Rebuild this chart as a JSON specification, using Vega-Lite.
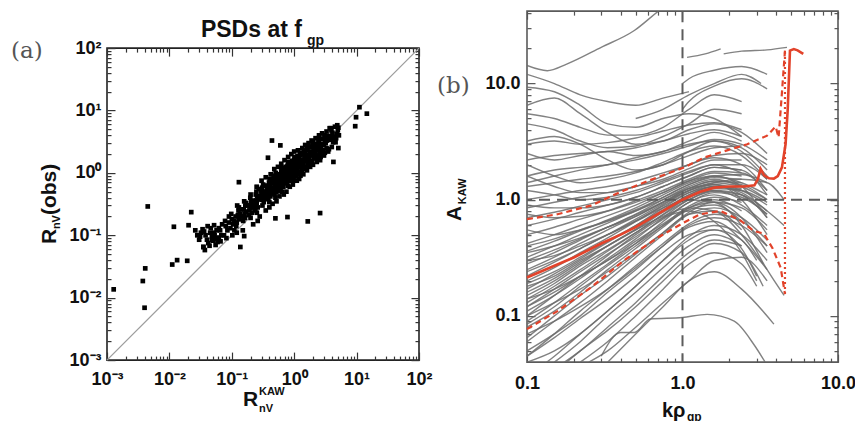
{
"$schema": "https://vega.github.io/schema/vega-lite/v6.json",
"background": "white",
"padding": {"left": 10, "top": 8, "right": 0, "bottom": 0},
"spacing": 3,
"center": true,
"config": {"view": {"stroke": null}, "axis": {"labelFont": "Liberation Sans", "labelFontWeight": "bold", "labelFontSize": 18, "labelColor": "#111", "domain": false, "grid": false, "labelFlush": false, "labelOverlap": false, "ticks": true, "tickColor": "#333", "tickWidth": 1.2, "zindex": 1}},
"resolve": {"scale": {"x": "independent", "y": "independent"}},
"datasets": {
"scatter": [
{"x":0.00128,"y":0.0136},{"x":0.00375,"y":0.0185},{"x":0.004,"y":0.0069},{"x":0.0041,"y":0.0295},{"x":0.0045,"y":0.29},{"x":0.0118,"y":0.137},{"x":0.0111,"y":0.034},{"x":0.0133,"y":0.04},{"x":0.0193,"y":0.039},{"x":0.0224,"y":0.235},{"x":0.0203,"y":0.145},
{"x":0.026,"y":0.12},{"x":0.028,"y":0.1},{"x":0.03,"y":0.085},{"x":0.031,"y":0.095},{"x":0.032,"y":0.11},{"x":0.034,"y":0.125},{"x":0.036,"y":0.115},{"x":0.038,"y":0.1},{"x":0.04,"y":0.085},{"x":0.042,"y":0.075},{"x":0.044,"y":0.068},{"x":0.035,"y":0.065},{"x":0.037,"y":0.058},{"x":0.045,"y":0.11},{"x":0.048,"y":0.095},{"x":0.05,"y":0.082},{"x":0.053,"y":0.1},{"x":0.056,"y":0.088},{"x":0.059,"y":0.078},{"x":0.062,"y":0.092},{"x":0.057,"y":0.12},{"x":0.046,"y":0.13},{"x":0.041,"y":0.14},{"x":0.052,"y":0.145},{"x":0.066,"y":0.08},
{"x":0.13,"y":0.71},{"x":0.137,"y":0.065},{"x":0.158,"y":0.097},{"x":0.44,"y":3.3},{"x":0.6,"y":2.76},{"x":0.38,"y":1.75},{"x":0.5,"y":0.187},{"x":0.78,"y":0.196},{"x":1.65,"y":0.167},{"x":2.6,"y":0.227},{"x":4.25,"y":1.5},{"x":5.1,"y":2.5},{"x":9.5,"y":5.6},{"x":9.8,"y":7.8},{"x":11.1,"y":11.3},{"x":14.6,"y":8.9},
{"x":0.048,"y":0.085},{"x":0.052,"y":0.11},{"x":0.05,"y":0.095},
{"x":0.06,"y":0.09},{"x":0.065,"y":0.12},{"x":0.068,"y":0.1},{"x":0.062,"y":0.13},
{"x":0.075,"y":0.1},{"x":0.08,"y":0.14},{"x":0.085,"y":0.12},{"x":0.078,"y":0.17},{"x":0.082,"y":0.09},
{"x":0.095,"y":0.13},{"x":0.1,"y":0.18},{"x":0.105,"y":0.15},{"x":0.098,"y":0.22},{"x":0.11,"y":0.12},{"x":0.102,"y":0.1},
{"x":0.12,"y":0.16},{"x":0.125,"y":0.21},{"x":0.13,"y":0.18},{"x":0.128,"y":0.25},{"x":0.118,"y":0.14},{"x":0.135,"y":0.22},{"x":0.122,"y":0.3},
{"x":0.15,"y":0.2},{"x":0.155,"y":0.26},{"x":0.16,"y":0.22},{"x":0.165,"y":0.3},{"x":0.152,"y":0.17},{"x":0.17,"y":0.24},{"x":0.158,"y":0.35},{"x":0.162,"y":0.19},
{"x":0.19,"y":0.25},{"x":0.195,"y":0.3},{"x":0.2,"y":0.27},{"x":0.205,"y":0.35},{"x":0.21,"y":0.23},{"x":0.198,"y":0.4},{"x":0.188,"y":0.21},{"x":0.215,"y":0.31},{"x":0.2,"y":0.19},
{"x":0.24,"y":0.3},{"x":0.245,"y":0.36},{"x":0.25,"y":0.33},{"x":0.255,"y":0.42},{"x":0.26,"y":0.28},{"x":0.248,"y":0.5},{"x":0.238,"y":0.25},{"x":0.265,"y":0.38},{"x":0.252,"y":0.23},{"x":0.242,"y":0.45},
{"x":0.3,"y":0.37},{"x":0.31,"y":0.44},{"x":0.315,"y":0.4},{"x":0.32,"y":0.5},{"x":0.325,"y":0.34},{"x":0.305,"y":0.58},{"x":0.33,"y":0.46},{"x":0.31,"y":0.3},{"x":0.318,"y":0.65},{"x":0.335,"y":0.39},{"x":0.298,"y":0.48},
{"x":0.38,"y":0.45},{"x":0.39,"y":0.53},{"x":0.4,"y":0.49},{"x":0.41,"y":0.6},{"x":0.415,"y":0.42},{"x":0.395,"y":0.7},{"x":0.42,"y":0.55},{"x":0.385,"y":0.38},{"x":0.405,"y":0.8},{"x":0.425,"y":0.47},{"x":0.378,"y":0.62},{"x":0.4,"y":0.34},
{"x":0.48,"y":0.55},{"x":0.49,"y":0.65},{"x":0.5,"y":0.6},{"x":0.51,"y":0.72},{"x":0.52,"y":0.5},{"x":0.495,"y":0.85},{"x":0.53,"y":0.66},{"x":0.485,"y":0.45},{"x":0.505,"y":1.0},{"x":0.515,"y":0.58},{"x":0.475,"y":0.75},{"x":0.5,"y":0.4},{"x":0.525,"y":0.8},
{"x":0.6,"y":0.68},{"x":0.61,"y":0.8},{"x":0.63,"y":0.74},{"x":0.64,"y":0.9},{"x":0.65,"y":0.62},{"x":0.62,"y":1.05},{"x":0.66,"y":0.82},{"x":0.605,"y":0.55},{"x":0.635,"y":1.2},{"x":0.655,"y":0.7},{"x":0.595,"y":0.95},{"x":0.63,"y":0.5},{"x":0.67,"y":0.95},{"x":0.615,"y":0.66},
{"x":0.76,"y":0.85},{"x":0.77,"y":0.98},{"x":0.79,"y":0.9},{"x":0.8,"y":1.1},{"x":0.82,"y":0.78},{"x":0.78,"y":1.3},{"x":0.83,"y":1.0},{"x":0.75,"y":0.7},{"x":0.8,"y":1.5},{"x":0.815,"y":0.88},{"x":0.74,"y":1.15},{"x":0.79,"y":0.62},{"x":0.84,"y":1.2},{"x":0.77,"y":0.8},
{"x":0.96,"y":1.05},{"x":0.98,"y":1.2},{"x":1.0,"y":1.1},{"x":1.02,"y":1.35},{"x":1.04,"y":0.95},{"x":0.99,"y":1.6},{"x":1.05,"y":1.22},{"x":0.95,"y":0.85},{"x":1.01,"y":1.8},{"x":1.03,"y":1.0},{"x":0.94,"y":1.4},{"x":1.0,"y":0.75},{"x":1.06,"y":1.5},{"x":0.97,"y":0.92},
{"x":1.2,"y":1.28},{"x":1.23,"y":1.45},{"x":1.26,"y":1.34},{"x":1.29,"y":1.6},{"x":1.31,"y":1.15},{"x":1.25,"y":1.9},{"x":1.33,"y":1.5},{"x":1.2,"y":1.05},{"x":1.27,"y":2.1},{"x":1.3,"y":1.25},{"x":1.18,"y":1.7},{"x":1.26,"y":0.9},
{"x":1.52,"y":1.55},{"x":1.55,"y":1.75},{"x":1.58,"y":1.62},{"x":1.62,"y":1.95},{"x":1.65,"y":1.4},{"x":1.57,"y":2.3},{"x":1.68,"y":1.8},{"x":1.5,"y":1.25},{"x":1.6,"y":2.6},{"x":1.64,"y":1.5},{"x":1.48,"y":2.0},
{"x":1.9,"y":1.9},{"x":1.95,"y":2.15},{"x":2.0,"y":2.0},{"x":2.05,"y":2.4},{"x":2.1,"y":1.7},{"x":1.98,"y":2.8},{"x":2.12,"y":2.2},{"x":1.92,"y":1.5},{"x":2.02,"y":3.2},{"x":2.08,"y":1.85},
{"x":2.4,"y":2.3},{"x":2.45,"y":2.65},{"x":2.5,"y":2.45},{"x":2.55,"y":2.9},{"x":2.6,"y":2.1},{"x":2.48,"y":3.3},{"x":2.65,"y":2.6},{"x":2.38,"y":1.9},{"x":2.52,"y":3.7},
{"x":3.0,"y":2.8},{"x":3.1,"y":3.2},{"x":3.2,"y":3.0},{"x":3.25,"y":3.6},{"x":3.3,"y":2.5},{"x":3.05,"y":4.0},{"x":3.35,"y":3.3},{"x":2.95,"y":2.3},
{"x":3.8,"y":3.4},{"x":3.9,"y":3.9},{"x":4.0,"y":3.6},{"x":4.1,"y":4.4},{"x":4.2,"y":3.1},{"x":3.95,"y":4.8},{"x":4.3,"y":3.8},{"x":3.85,"y":5.2},
{"x":4.8,"y":4.2},{"x":5.0,"y":4.8},{"x":5.1,"y":5.3},{"x":4.9,"y":5.8},{"x":5.2,"y":4.0},{"x":4.7,"y":3.6},
{"x":0.35,"y":0.5},{"x":0.36,"y":0.62},{"x":0.37,"y":0.55},{"x":0.44,"y":0.58},{"x":0.45,"y":0.68},{"x":0.46,"y":0.52},{"x":0.47,"y":0.9},{"x":0.55,"y":0.7},{"x":0.56,"y":0.78},{"x":0.57,"y":0.6},{"x":0.58,"y":0.88},{"x":0.69,"y":0.8},{"x":0.7,"y":0.95},{"x":0.72,"y":0.72},{"x":0.73,"y":1.05},{"x":0.86,"y":0.95},{"x":0.88,"y":1.1},{"x":0.9,"y":0.85},{"x":0.92,"y":1.25},{"x":1.1,"y":1.15},{"x":1.12,"y":1.3},{"x":1.14,"y":1.0},{"x":1.16,"y":1.45},{"x":1.4,"y":1.4},{"x":1.42,"y":1.6},{"x":1.44,"y":1.25},{"x":1.46,"y":1.8},{"x":1.75,"y":1.7},{"x":1.8,"y":1.95},{"x":1.85,"y":1.55},{"x":1.78,"y":2.2},{"x":2.2,"y":2.1},{"x":2.25,"y":2.5},{"x":2.3,"y":1.85},{"x":2.28,"y":2.9},{"x":2.7,"y":2.5},{"x":2.8,"y":2.9},{"x":2.75,"y":2.2},{"x":0.6,"y":0.9},{"x":0.65,"y":1.0},{"x":0.75,"y":1.0},{"x":0.85,"y":1.3},{"x":0.9,"y":1.4},{"x":1.1,"y":1.7},{"x":1.3,"y":2.0},{"x":0.55,"y":0.95},{"x":0.45,"y":0.8},{"x":0.4,"y":0.65},{"x":0.3,"y":0.52},{"x":0.28,"y":0.42},{"x":0.27,"y":0.55},{"x":0.22,"y":0.36},{"x":0.23,"y":0.28},{"x":0.18,"y":0.3},{"x":0.14,"y":0.2},{"x":0.145,"y":0.26},{"x":0.11,"y":0.17},{"x":0.115,"y":0.2},{"x":0.09,"y":0.16},{"x":0.035,"y":0.065},
{"x":0.2,"y":0.45},{"x":0.22,"y":0.15},{"x":0.25,"y":0.6},{"x":0.28,"y":0.2},{"x":0.3,"y":0.75},{"x":0.35,"y":0.25},{"x":0.35,"y":0.85},{"x":0.4,"y":0.28},{"x":0.42,"y":0.95},{"x":0.45,"y":0.32},{"x":0.48,"y":1.15},{"x":0.52,"y":0.35},{"x":0.55,"y":1.25},{"x":0.58,"y":0.42},{"x":0.62,"y":1.4},{"x":0.68,"y":0.45},{"x":0.7,"y":1.6},{"x":0.75,"y":0.5},{"x":0.8,"y":1.8},{"x":0.85,"y":0.6},{"x":0.9,"y":2.0},{"x":0.95,"y":0.65},{"x":1.0,"y":2.2},{"x":1.1,"y":0.75},{"x":1.15,"y":2.3},{"x":1.2,"y":0.8},{"x":1.35,"y":2.5},{"x":1.4,"y":0.95},{"x":1.5,"y":2.8},{"x":1.6,"y":1.1},{"x":1.7,"y":3.0},{"x":1.8,"y":1.25},{"x":1.9,"y":3.3},{"x":2.0,"y":1.35},{"x":2.2,"y":3.6},{"x":2.3,"y":1.5},{"x":2.5,"y":4.0},{"x":2.6,"y":1.6},{"x":2.8,"y":4.3},{"x":3.0,"y":1.9},{"x":3.3,"y":4.6},{"x":3.5,"y":2.2},{"x":3.7,"y":5.2},{"x":4.0,"y":2.6},{"x":4.5,"y":5.5},{"x":4.6,"y":3.1},{"x":0.33,"y":0.62},{"x":0.37,"y":0.42},{"x":0.43,"y":0.72},{"x":0.47,"y":0.48},{"x":0.53,"y":0.88},{"x":0.57,"y":0.52},{"x":0.63,"y":1.1},{"x":0.67,"y":0.6},{"x":0.73,"y":1.25},{"x":0.77,"y":0.68},{"x":0.83,"y":1.4},{"x":0.87,"y":0.75},{"x":0.93,"y":1.55},{"x":0.97,"y":0.8},{"x":1.03,"y":1.65},{"x":1.07,"y":0.88},{"x":1.13,"y":1.85},{"x":1.17,"y":0.95},{"x":1.23,"y":2.0},{"x":1.33,"y":1.05},{"x":1.43,"y":2.2},{"x":1.53,"y":1.15},{"x":1.63,"y":2.4},{"x":1.73,"y":1.3},{"x":1.83,"y":2.6},{"x":1.93,"y":1.4},{"x":2.15,"y":2.8},{"x":2.35,"y":1.65},{"x":2.45,"y":3.1},{"x":2.65,"y":1.8},{"x":2.9,"y":3.5},{"x":3.1,"y":2.1},{"x":3.4,"y":3.9},{"x":3.6,"y":2.4},{"x":0.15,"y":0.12},{"x":0.17,"y":0.33},{"x":0.12,"y":0.11},{"x":0.13,"y":0.28},{"x":0.26,"y":0.17},{"x":0.09,"y":0.2},{"x":0.07,"y":0.15},{"x":0.055,"y":0.07}
],
"curves": [
{"i":1,"k":0.1,"a":0.05},{"i":1,"k":0.15,"a":0.07},{"i":1,"k":0.22,"a":0.1},{"i":1,"k":0.33,"a":0.16},{"i":1,"k":0.5,"a":0.25},{"i":1,"k":0.75,"a":0.4},{"i":1,"k":1.1,"a":0.6},{"i":1,"k":1.6,"a":0.7},{"i":1,"k":2.4,"a":0.6},{"i":1,"k":3.5,"a":0.4},
{"i":2,"k":0.1,"a":0.06},{"i":2,"k":0.15,"a":0.09},{"i":2,"k":0.22,"a":0.13},{"i":2,"k":0.33,"a":0.2},{"i":2,"k":0.5,"a":0.32},{"i":2,"k":0.75,"a":0.5},{"i":2,"k":1.1,"a":0.75},{"i":2,"k":1.6,"a":0.85},{"i":2,"k":2.4,"a":0.7},{"i":2,"k":3.5,"a":0.45},
{"i":3,"k":0.1,"a":0.08},{"i":3,"k":0.15,"a":0.11},{"i":3,"k":0.22,"a":0.16},{"i":3,"k":0.33,"a":0.25},{"i":3,"k":0.5,"a":0.38},{"i":3,"k":0.75,"a":0.58},{"i":3,"k":1.1,"a":0.85},{"i":3,"k":1.6,"a":1.0},{"i":3,"k":2.4,"a":0.8},
{"i":4,"k":0.1,"a":0.09},{"i":4,"k":0.15,"a":0.13},{"i":4,"k":0.22,"a":0.19},{"i":4,"k":0.33,"a":0.28},{"i":4,"k":0.5,"a":0.42},{"i":4,"k":0.75,"a":0.65},{"i":4,"k":1.1,"a":0.95},{"i":4,"k":1.6,"a":1.1},{"i":4,"k":2.4,"a":0.9},{"i":4,"k":3.5,"a":0.6},
{"i":5,"k":0.1,"a":0.11},{"i":5,"k":0.15,"a":0.15},{"i":5,"k":0.22,"a":0.21},{"i":5,"k":0.33,"a":0.31},{"i":5,"k":0.5,"a":0.46},{"i":5,"k":0.75,"a":0.7},{"i":5,"k":1.1,"a":1.0},{"i":5,"k":1.6,"a":1.2},{"i":5,"k":2.4,"a":1.0},
{"i":6,"k":0.1,"a":0.13},{"i":6,"k":0.15,"a":0.18},{"i":6,"k":0.22,"a":0.25},{"i":6,"k":0.33,"a":0.36},{"i":6,"k":0.5,"a":0.52},{"i":6,"k":0.75,"a":0.75},{"i":6,"k":1.1,"a":1.05},{"i":6,"k":1.6,"a":1.2},{"i":6,"k":2.4,"a":1.1},{"i":6,"k":3.5,"a":0.7},
{"i":7,"k":0.1,"a":0.15},{"i":7,"k":0.15,"a":0.2},{"i":7,"k":0.22,"a":0.28},{"i":7,"k":0.33,"a":0.4},{"i":7,"k":0.5,"a":0.56},{"i":7,"k":0.75,"a":0.8},{"i":7,"k":1.1,"a":1.1},{"i":7,"k":1.6,"a":1.3},{"i":7,"k":2.4,"a":1.2},
{"i":8,"k":0.1,"a":0.17},{"i":8,"k":0.15,"a":0.23},{"i":8,"k":0.22,"a":0.31},{"i":8,"k":0.33,"a":0.43},{"i":8,"k":0.5,"a":0.6},{"i":8,"k":0.75,"a":0.85},{"i":8,"k":1.1,"a":1.15},{"i":8,"k":1.6,"a":1.35},{"i":8,"k":2.4,"a":1.1},{"i":8,"k":3.5,"a":0.75},
{"i":9,"k":0.1,"a":0.2},{"i":9,"k":0.15,"a":0.26},{"i":9,"k":0.22,"a":0.35},{"i":9,"k":0.33,"a":0.47},{"i":9,"k":0.5,"a":0.65},{"i":9,"k":0.75,"a":0.9},{"i":9,"k":1.1,"a":1.2},{"i":9,"k":1.6,"a":1.4},{"i":9,"k":2.4,"a":1.3},
{"i":10,"k":0.1,"a":0.22},{"i":10,"k":0.15,"a":0.29},{"i":10,"k":0.22,"a":0.38},{"i":10,"k":0.33,"a":0.5},{"i":10,"k":0.5,"a":0.68},{"i":10,"k":0.75,"a":0.92},{"i":10,"k":1.1,"a":1.2},{"i":10,"k":1.6,"a":1.35},{"i":10,"k":2.4,"a":1.2},{"i":10,"k":3.5,"a":0.9},
{"i":11,"k":0.1,"a":0.25},{"i":11,"k":0.15,"a":0.32},{"i":11,"k":0.22,"a":0.42},{"i":11,"k":0.33,"a":0.55},{"i":11,"k":0.5,"a":0.72},{"i":11,"k":0.75,"a":0.95},{"i":11,"k":1.1,"a":1.25},{"i":11,"k":1.6,"a":1.45},{"i":11,"k":2.4,"a":1.4},
{"i":12,"k":0.1,"a":0.28},{"i":12,"k":0.15,"a":0.35},{"i":12,"k":0.22,"a":0.45},{"i":12,"k":0.33,"a":0.58},{"i":12,"k":0.5,"a":0.75},{"i":12,"k":0.75,"a":1.0},{"i":12,"k":1.1,"a":1.3},{"i":12,"k":1.6,"a":1.5},{"i":12,"k":2.4,"a":1.3},{"i":12,"k":3.5,"a":1.0},
{"i":13,"k":0.1,"a":0.32},{"i":13,"k":0.15,"a":0.4},{"i":13,"k":0.22,"a":0.5},{"i":13,"k":0.33,"a":0.63},{"i":13,"k":0.5,"a":0.8},{"i":13,"k":0.75,"a":1.05},{"i":13,"k":1.1,"a":1.35},{"i":13,"k":1.6,"a":1.55},{"i":13,"k":2.4,"a":1.5},
{"i":14,"k":0.1,"a":0.36},{"i":14,"k":0.15,"a":0.44},{"i":14,"k":0.22,"a":0.54},{"i":14,"k":0.33,"a":0.67},{"i":14,"k":0.5,"a":0.85},{"i":14,"k":0.75,"a":1.1},{"i":14,"k":1.1,"a":1.4},{"i":14,"k":1.6,"a":1.6},{"i":14,"k":2.4,"a":1.4},{"i":14,"k":3.5,"a":1.1},
{"i":15,"k":0.1,"a":0.42},{"i":15,"k":0.15,"a":0.5},{"i":15,"k":0.22,"a":0.6},{"i":15,"k":0.33,"a":0.73},{"i":15,"k":0.5,"a":0.9},{"i":15,"k":0.75,"a":1.15},{"i":15,"k":1.1,"a":1.45},{"i":15,"k":1.6,"a":1.7},{"i":15,"k":2.4,"a":1.6},
{"i":16,"k":0.1,"a":0.5},{"i":16,"k":0.15,"a":0.58},{"i":16,"k":0.22,"a":0.68},{"i":16,"k":0.33,"a":0.8},{"i":16,"k":0.5,"a":0.98},{"i":16,"k":0.75,"a":1.2},{"i":16,"k":1.1,"a":1.5},{"i":16,"k":1.6,"a":1.75},{"i":16,"k":2.4,"a":1.7},{"i":16,"k":3.5,"a":1.2},
{"i":17,"k":0.1,"a":0.6},{"i":17,"k":0.15,"a":0.68},{"i":17,"k":0.22,"a":0.78},{"i":17,"k":0.33,"a":0.9},{"i":17,"k":0.5,"a":1.05},{"i":17,"k":0.75,"a":1.3},{"i":17,"k":1.1,"a":1.6},{"i":17,"k":1.6,"a":1.9},{"i":17,"k":2.4,"a":1.8},
{"i":18,"k":0.1,"a":0.7},{"i":18,"k":0.15,"a":0.78},{"i":18,"k":0.22,"a":0.88},{"i":18,"k":0.33,"a":1.0},{"i":18,"k":0.5,"a":1.15},{"i":18,"k":0.75,"a":1.4},{"i":18,"k":1.1,"a":1.7},{"i":18,"k":1.6,"a":2.0},{"i":18,"k":2.4,"a":2.0},{"i":18,"k":3.5,"a":1.5},
{"i":19,"k":0.1,"a":0.85},{"i":19,"k":0.15,"a":0.95},{"i":19,"k":0.22,"a":1.05},{"i":19,"k":0.33,"a":1.15},{"i":19,"k":0.5,"a":1.3},{"i":19,"k":0.75,"a":1.5},{"i":19,"k":1.1,"a":1.85},{"i":19,"k":1.6,"a":2.2},{"i":19,"k":2.4,"a":2.2},
{"i":20,"k":0.1,"a":1.0},{"i":20,"k":0.15,"a":1.1},{"i":20,"k":0.22,"a":1.2},{"i":20,"k":0.33,"a":1.3},{"i":20,"k":0.5,"a":1.45},{"i":20,"k":0.75,"a":1.7},{"i":20,"k":1.1,"a":2.0},{"i":20,"k":1.6,"a":2.4},{"i":20,"k":2.4,"a":2.5},{"i":20,"k":3.5,"a":2.0},
{"i":21,"k":0.1,"a":1.3},{"i":21,"k":0.15,"a":1.4},{"i":21,"k":0.22,"a":1.5},{"i":21,"k":0.33,"a":1.6},{"i":21,"k":0.5,"a":1.75},{"i":21,"k":0.75,"a":2.0},{"i":21,"k":1.1,"a":2.4},{"i":21,"k":1.6,"a":2.8},{"i":21,"k":2.4,"a":2.9},
{"i":22,"k":0.1,"a":1.6},{"i":22,"k":0.15,"a":1.8},{"i":22,"k":0.22,"a":1.9},{"i":22,"k":0.33,"a":2.0},{"i":22,"k":0.5,"a":2.2},{"i":22,"k":0.75,"a":2.5},{"i":22,"k":1.1,"a":2.9},{"i":22,"k":1.6,"a":3.3},{"i":22,"k":2.4,"a":3.0},{"i":22,"k":3.5,"a":2.2},
{"i":23,"k":0.1,"a":2.2},{"i":23,"k":0.15,"a":2.4},{"i":23,"k":0.22,"a":2.5},{"i":23,"k":0.33,"a":2.6},{"i":23,"k":0.5,"a":2.8},{"i":23,"k":0.75,"a":3.2},{"i":23,"k":1.1,"a":3.7},{"i":23,"k":1.6,"a":4.0},{"i":23,"k":2.4,"a":3.5},
{"i":24,"k":0.1,"a":3.0},{"i":24,"k":0.15,"a":3.2},{"i":24,"k":0.22,"a":3.0},{"i":24,"k":0.33,"a":3.1},{"i":24,"k":0.5,"a":3.4},{"i":24,"k":0.75,"a":3.9},{"i":24,"k":1.1,"a":4.4},{"i":24,"k":1.6,"a":4.6},{"i":24,"k":2.4,"a":4.0},
{"i":25,"k":0.1,"a":0.04},{"i":25,"k":0.15,"a":0.05},{"i":25,"k":0.22,"a":0.07},{"i":25,"k":0.33,"a":0.11},{"i":25,"k":0.5,"a":0.18},{"i":25,"k":0.75,"a":0.3},{"i":25,"k":1.1,"a":0.48},{"i":25,"k":1.6,"a":0.6},{"i":25,"k":2.4,"a":0.5},{"i":25,"k":3.5,"a":0.3},
{"i":26,"k":0.15,"a":0.04},{"i":26,"k":0.22,"a":0.06},{"i":26,"k":0.33,"a":0.1},{"i":26,"k":0.5,"a":0.16},{"i":26,"k":0.75,"a":0.26},{"i":26,"k":1.1,"a":0.4},{"i":26,"k":1.6,"a":0.5},{"i":26,"k":2.4,"a":0.4},
{"i":27,"k":0.1,"a":0.07},{"i":27,"k":0.15,"a":0.09},{"i":27,"k":0.22,"a":0.12},{"i":27,"k":0.33,"a":0.17},{"i":27,"k":0.5,"a":0.26},{"i":27,"k":0.75,"a":0.4},{"i":27,"k":1.1,"a":0.58},{"i":27,"k":1.6,"a":0.65},{"i":27,"k":2.4,"a":0.45},{"i":27,"k":3.5,"a":0.25},
{"i":28,"k":0.1,"a":0.1},{"i":28,"k":0.15,"a":0.13},{"i":28,"k":0.22,"a":0.17},{"i":28,"k":0.33,"a":0.24},{"i":28,"k":0.5,"a":0.35},{"i":28,"k":0.75,"a":0.52},{"i":28,"k":1.1,"a":0.75},{"i":28,"k":1.6,"a":0.8},{"i":28,"k":2.4,"a":0.55},
{"i":29,"k":0.1,"a":0.12},{"i":29,"k":0.15,"a":0.16},{"i":29,"k":0.22,"a":0.22},{"i":29,"k":0.33,"a":0.3},{"i":29,"k":0.5,"a":0.44},{"i":29,"k":0.75,"a":0.62},{"i":29,"k":1.1,"a":0.85},{"i":29,"k":1.6,"a":0.95},{"i":29,"k":2.4,"a":0.7},{"i":29,"k":3.5,"a":0.35},
{"i":30,"k":0.1,"a":0.14},{"i":30,"k":0.15,"a":0.17},{"i":30,"k":0.22,"a":0.22},{"i":30,"k":0.33,"a":0.3},{"i":30,"k":0.5,"a":0.42},{"i":30,"k":0.75,"a":0.6},{"i":30,"k":1.1,"a":0.82},{"i":30,"k":1.6,"a":0.9},{"i":30,"k":2.4,"a":0.65},
{"i":31,"k":0.3,"a":0.045},{"i":31,"k":0.4,"a":0.072},{"i":31,"k":0.49,"a":0.072},{"i":31,"k":0.62,"a":0.094},{"i":31,"k":1.0,"a":0.097},{"i":31,"k":1.44,"a":0.103},{"i":31,"k":2.15,"a":0.09},{"i":31,"k":2.87,"a":0.057},{"i":31,"k":3.4,"a":0.04},
{"i":32,"k":0.33,"a":0.04},{"i":32,"k":0.5,"a":0.07},{"i":32,"k":0.75,"a":0.12},{"i":32,"k":1.1,"a":0.2},{"i":32,"k":1.6,"a":0.24},{"i":32,"k":2.4,"a":0.17},{"i":32,"k":3.87,"a":0.085},
{"i":33,"k":0.22,"a":0.04},{"i":33,"k":0.33,"a":0.06},{"i":33,"k":0.5,"a":0.1},{"i":33,"k":0.75,"a":0.17},{"i":33,"k":1.1,"a":0.28},{"i":33,"k":1.6,"a":0.35},{"i":33,"k":2.4,"a":0.28},{"i":33,"k":3.0,"a":0.18},
{"i":34,"k":0.1,"a":14.3},{"i":34,"k":0.135,"a":12.9},{"i":34,"k":0.18,"a":14.7},{"i":34,"k":0.3,"a":20.5},{"i":34,"k":0.49,"a":28.6},{"i":34,"k":0.7,"a":42},{"i":34,"k":0.8,"a":48},
{"i":35,"k":0.1,"a":9.3},{"i":35,"k":0.15,"a":8.5},{"i":35,"k":0.22,"a":6.5},{"i":35,"k":0.33,"a":4.5},{"i":35,"k":0.5,"a":4.2},{"i":35,"k":0.75,"a":5.0},{"i":35,"k":1.1,"a":5.5},{"i":35,"k":1.6,"a":5.0},{"i":35,"k":2.4,"a":3.5},
{"i":36,"k":0.1,"a":6.5},{"i":36,"k":0.15,"a":7.5},{"i":36,"k":0.22,"a":5.5},{"i":36,"k":0.33,"a":3.8},{"i":36,"k":0.5,"a":3.0},{"i":36,"k":0.75,"a":3.2},{"i":36,"k":1.1,"a":4.0},{"i":36,"k":1.6,"a":4.5},{"i":36,"k":2.4,"a":3.8},{"i":36,"k":3.5,"a":2.5},
{"i":37,"k":0.1,"a":4.5},{"i":37,"k":0.15,"a":4.0},{"i":37,"k":0.22,"a":3.2},{"i":37,"k":0.33,"a":2.8},{"i":37,"k":0.5,"a":2.9},{"i":37,"k":0.75,"a":3.5},{"i":37,"k":1.1,"a":4.5},{"i":37,"k":1.6,"a":6.0},{"i":37,"k":2.4,"a":5.5},
{"i":38,"k":0.1,"a":3.2},{"i":38,"k":0.15,"a":3.5},{"i":38,"k":0.22,"a":3.0},{"i":38,"k":0.33,"a":2.2},{"i":38,"k":0.5,"a":1.8},{"i":38,"k":0.75,"a":2.0},{"i":38,"k":1.1,"a":2.6},{"i":38,"k":1.6,"a":3.2},{"i":38,"k":2.4,"a":2.8},{"i":38,"k":3.5,"a":1.8},
{"i":39,"k":0.1,"a":2.5},{"i":39,"k":0.15,"a":2.2},{"i":39,"k":0.22,"a":2.4},{"i":39,"k":0.33,"a":2.6},{"i":39,"k":0.5,"a":2.4},{"i":39,"k":0.75,"a":2.6},{"i":39,"k":1.1,"a":3.2},{"i":39,"k":1.6,"a":3.8},{"i":39,"k":2.4,"a":3.2},
{"i":40,"k":0.1,"a":2.0},{"i":40,"k":0.15,"a":1.6},{"i":40,"k":0.22,"a":1.4},{"i":40,"k":0.33,"a":1.5},{"i":40,"k":0.5,"a":1.7},{"i":40,"k":0.75,"a":2.1},{"i":40,"k":1.1,"a":2.6},{"i":40,"k":1.6,"a":2.9},{"i":40,"k":2.4,"a":2.4},{"i":40,"k":3.5,"a":1.5},
{"i":41,"k":0.1,"a":1.6},{"i":41,"k":0.15,"a":1.3},{"i":41,"k":0.22,"a":1.15},{"i":41,"k":0.33,"a":1.15},{"i":41,"k":0.5,"a":1.3},{"i":41,"k":0.75,"a":1.6},{"i":41,"k":1.1,"a":2.0},{"i":41,"k":1.6,"a":2.3},{"i":41,"k":2.4,"a":2.0},{"i":41,"k":3.5,"a":1.2},
{"i":42,"k":0.1,"a":1.2},{"i":42,"k":0.15,"a":1.1},{"i":42,"k":0.22,"a":1.0},{"i":42,"k":0.33,"a":1.05},{"i":42,"k":0.5,"a":1.2},{"i":42,"k":0.75,"a":1.45},{"i":42,"k":1.1,"a":1.75},{"i":42,"k":1.6,"a":2.0},{"i":42,"k":2.4,"a":1.7},
{"i":43,"k":0.1,"a":5.5},{"i":43,"k":0.15,"a":5.0},{"i":43,"k":0.22,"a":4.2},{"i":43,"k":0.33,"a":3.6},{"i":43,"k":0.5,"a":3.6},{"i":43,"k":0.75,"a":4.2},{"i":43,"k":1.1,"a":6.0},{"i":43,"k":1.6,"a":8.0},{"i":43,"k":2.4,"a":7.0},
{"i":44,"k":0.1,"a":12},{"i":44,"k":0.15,"a":10},{"i":44,"k":0.22,"a":8},{"i":44,"k":0.33,"a":7},{"i":44,"k":0.5,"a":6.5},{"i":44,"k":0.75,"a":7.5},{"i":44,"k":1.1,"a":8.5},
{"i":45,"k":1.0,"a":10},{"i":45,"k":1.1,"a":11},{"i":45,"k":1.6,"a":13},{"i":45,"k":2.4,"a":14},{"i":45,"k":3.5,"a":12},
{"i":46,"k":1.84,"a":18},{"i":46,"k":2.4,"a":19},{"i":46,"k":3.5,"a":19.5},{"i":46,"k":4.7,"a":20.5},
{"i":47,"k":1.07,"a":16.8},{"i":47,"k":1.4,"a":18},{"i":47,"k":1.76,"a":19.9},
{"i":48,"k":1.0,"a":6},{"i":48,"k":1.1,"a":7},{"i":48,"k":1.6,"a":9.5},{"i":48,"k":2.4,"a":11},{"i":48,"k":3.5,"a":9},
{"i":49,"k":0.5,"a":5},{"i":49,"k":0.75,"a":6},{"i":49,"k":1.1,"a":8},{"i":49,"k":1.6,"a":10},{"i":49,"k":2.4,"a":12},{"i":49,"k":3.2,"a":10},
{"i":50,"k":0.1,"a":0.9},{"i":50,"k":0.15,"a":0.85},{"i":50,"k":0.22,"a":0.85},{"i":50,"k":0.33,"a":0.9},{"i":50,"k":0.5,"a":1.05},{"i":50,"k":0.75,"a":1.3},{"i":50,"k":1.1,"a":1.6},{"i":50,"k":1.6,"a":1.9},{"i":50,"k":2.4,"a":1.8},{"i":50,"k":3.5,"a":1.1},
{"i":51,"k":0.1,"a":0.75},{"i":51,"k":0.15,"a":0.7},{"i":51,"k":0.22,"a":0.72},{"i":51,"k":0.33,"a":0.8},{"i":51,"k":0.5,"a":0.95},{"i":51,"k":0.75,"a":1.15},{"i":51,"k":1.1,"a":1.45},{"i":51,"k":1.6,"a":1.6},{"i":51,"k":2.4,"a":1.3},{"i":51,"k":3.5,"a":0.7},
{"i":52,"k":0.1,"a":0.55},{"i":52,"k":0.15,"a":0.5},{"i":52,"k":0.22,"a":0.55},{"i":52,"k":0.33,"a":0.65},{"i":52,"k":0.5,"a":0.8},{"i":52,"k":0.75,"a":1.0},{"i":52,"k":1.1,"a":1.25},{"i":52,"k":1.6,"a":1.35},{"i":52,"k":2.4,"a":1.0},{"i":52,"k":3.5,"a":0.5},
{"i":53,"k":0.1,"a":0.3},{"i":53,"k":0.15,"a":0.33},{"i":53,"k":0.22,"a":0.4},{"i":53,"k":0.33,"a":0.5},{"i":53,"k":0.5,"a":0.65},{"i":53,"k":0.75,"a":0.85},{"i":53,"k":1.1,"a":1.0},{"i":53,"k":1.6,"a":0.95},{"i":53,"k":2.4,"a":0.6},{"i":53,"k":3.5,"a":0.25},{"i":53,"k":4.5,"a":0.15},
{"i":54,"k":0.1,"a":0.18},{"i":54,"k":0.15,"a":0.22},{"i":54,"k":0.22,"a":0.3},{"i":54,"k":0.33,"a":0.4},{"i":54,"k":0.5,"a":0.55},{"i":54,"k":0.75,"a":0.72},{"i":54,"k":1.1,"a":0.85},{"i":54,"k":1.6,"a":0.8},{"i":54,"k":2.4,"a":0.5},{"i":54,"k":3.3,"a":0.28},
{"i":55,"k":0.1,"a":0.045},{"i":55,"k":0.15,"a":0.065},{"i":55,"k":0.22,"a":0.095},{"i":55,"k":0.33,"a":0.14},{"i":55,"k":0.5,"a":0.22},{"i":55,"k":0.75,"a":0.35},{"i":55,"k":1.1,"a":0.5},{"i":55,"k":1.6,"a":0.55},{"i":55,"k":2.4,"a":0.38},{"i":55,"k":3.0,"a":0.22},
{"i":56,"k":0.18,"a":0.04},{"i":56,"k":0.22,"a":0.05},{"i":56,"k":0.33,"a":0.075},{"i":56,"k":0.5,"a":0.12},{"i":56,"k":0.75,"a":0.2},{"i":56,"k":1.1,"a":0.32},{"i":56,"k":1.6,"a":0.42},{"i":56,"k":2.4,"a":0.35},{"i":56,"k":3.3,"a":0.18},
{"i":57,"k":0.25,"a":0.04},{"i":57,"k":0.33,"a":0.05},{"i":57,"k":0.5,"a":0.08},{"i":57,"k":0.75,"a":0.13},{"i":57,"k":1.1,"a":0.2},{"i":57,"k":1.6,"a":0.3},{"i":57,"k":2.4,"a":0.32},{"i":57,"k":3.5,"a":0.2},
{"i":58,"k":0.1,"a":0.1},{"i":58,"k":0.15,"a":0.15},{"i":58,"k":0.22,"a":0.22},{"i":58,"k":0.33,"a":0.33},{"i":58,"k":0.5,"a":0.5},{"i":58,"k":0.75,"a":0.7},{"i":58,"k":1.1,"a":0.8},{"i":58,"k":1.6,"a":0.65},{"i":58,"k":2.4,"a":0.35},{"i":58,"k":3.0,"a":0.2},
{"i":59,"k":0.1,"a":0.35},{"i":59,"k":0.15,"a":0.4},{"i":59,"k":0.22,"a":0.47},{"i":59,"k":0.33,"a":0.58},{"i":59,"k":0.5,"a":0.72},{"i":59,"k":0.75,"a":0.95},{"i":59,"k":1.1,"a":1.2},{"i":59,"k":1.6,"a":1.4},{"i":59,"k":2.4,"a":1.5},{"i":59,"k":3.5,"a":1.4},{"i":59,"k":4.5,"a":1.0},
{"i":60,"k":0.1,"a":1.4},{"i":60,"k":0.15,"a":1.6},{"i":60,"k":0.22,"a":1.8},{"i":60,"k":0.33,"a":2.0},{"i":60,"k":0.5,"a":2.3},{"i":60,"k":0.75,"a":2.6},{"i":60,"k":1.1,"a":3.0},{"i":60,"k":1.6,"a":3.2},{"i":60,"k":2.4,"a":2.6},{"i":60,"k":3.5,"a":1.6},
{"i":61,"k":0.1,"a":0.065},{"i":61,"k":0.15,"a":0.1},{"i":61,"k":0.22,"a":0.15},{"i":61,"k":0.33,"a":0.22},{"i":61,"k":0.5,"a":0.34},{"i":61,"k":0.75,"a":0.52},{"i":61,"k":1.1,"a":0.78},{"i":61,"k":1.6,"a":0.95},{"i":61,"k":2.4,"a":0.85},{"i":61,"k":3.5,"a":0.55},
{"i":62,"k":0.1,"a":0.12},{"i":62,"k":0.15,"a":0.17},{"i":62,"k":0.22,"a":0.24},{"i":62,"k":0.33,"a":0.34},{"i":62,"k":0.5,"a":0.48},{"i":62,"k":0.75,"a":0.68},{"i":62,"k":1.1,"a":0.95},{"i":62,"k":1.6,"a":1.15},{"i":62,"k":2.4,"a":1.05},{"i":62,"k":3.5,"a":0.75},
{"i":63,"k":0.1,"a":0.16},{"i":63,"k":0.15,"a":0.21},{"i":63,"k":0.22,"a":0.29},{"i":63,"k":0.33,"a":0.4},{"i":63,"k":0.5,"a":0.55},{"i":63,"k":0.75,"a":0.78},{"i":63,"k":1.1,"a":1.05},{"i":63,"k":1.6,"a":1.25},{"i":63,"k":2.4,"a":1.2},{"i":63,"k":3.5,"a":0.95},
{"i":64,"k":0.1,"a":0.19},{"i":64,"k":0.15,"a":0.24},{"i":64,"k":0.22,"a":0.32},{"i":64,"k":0.33,"a":0.44},{"i":64,"k":0.5,"a":0.6},{"i":64,"k":0.75,"a":0.82},{"i":64,"k":1.1,"a":1.1},{"i":64,"k":1.6,"a":1.3},{"i":64,"k":2.4,"a":1.25},
{"i":65,"k":0.1,"a":0.24},{"i":65,"k":0.15,"a":0.3},{"i":65,"k":0.22,"a":0.38},{"i":65,"k":0.33,"a":0.5},{"i":65,"k":0.5,"a":0.66},{"i":65,"k":0.75,"a":0.88},{"i":65,"k":1.1,"a":1.15},{"i":65,"k":1.6,"a":1.3},{"i":65,"k":2.4,"a":1.15},{"i":65,"k":3.5,"a":0.8},
{"i":66,"k":0.1,"a":0.3},{"i":66,"k":0.15,"a":0.37},{"i":66,"k":0.22,"a":0.46},{"i":66,"k":0.33,"a":0.58},{"i":66,"k":0.5,"a":0.74},{"i":66,"k":0.75,"a":0.96},{"i":66,"k":1.1,"a":1.25},{"i":66,"k":1.6,"a":1.45},{"i":66,"k":2.4,"a":1.35},{"i":66,"k":3.5,"a":1.0},
{"i":67,"k":0.1,"a":0.085},{"i":67,"k":0.15,"a":0.12},{"i":67,"k":0.22,"a":0.18},{"i":67,"k":0.33,"a":0.27},{"i":67,"k":0.5,"a":0.4},{"i":67,"k":0.75,"a":0.6},{"i":67,"k":1.1,"a":0.88},{"i":67,"k":1.6,"a":1.05},{"i":67,"k":2.4,"a":0.95},
{"i":68,"k":0.1,"a":0.045},{"i":68,"k":0.15,"a":0.07},{"i":68,"k":0.22,"a":0.11},{"i":68,"k":0.33,"a":0.17},{"i":68,"k":0.5,"a":0.27},{"i":68,"k":0.75,"a":0.42},{"i":68,"k":1.1,"a":0.62},{"i":68,"k":1.6,"a":0.75},{"i":68,"k":2.4,"a":0.65},{"i":68,"k":3.5,"a":0.4},
{"i":69,"k":0.1,"a":0.14},{"i":69,"k":0.15,"a":0.19},{"i":69,"k":0.22,"a":0.27},{"i":69,"k":0.33,"a":0.37},{"i":69,"k":0.5,"a":0.52},{"i":69,"k":0.75,"a":0.74},{"i":69,"k":1.1,"a":1.0},{"i":69,"k":1.6,"a":1.18},{"i":69,"k":2.4,"a":1.1},{"i":69,"k":3.5,"a":0.8},{"i":69,"k":4.5,"a":0.6},
{"i":70,"k":0.1,"a":0.4},{"i":70,"k":0.15,"a":0.46},{"i":70,"k":0.22,"a":0.55},{"i":70,"k":0.33,"a":0.66},{"i":70,"k":0.5,"a":0.82},{"i":70,"k":0.75,"a":1.05},{"i":70,"k":1.1,"a":1.35},{"i":70,"k":1.6,"a":1.6},{"i":70,"k":2.4,"a":1.65},{"i":70,"k":3.5,"a":1.4},
{"i":71,"k":0.1,"a":0.03},{"i":71,"k":0.15,"a":0.045},{"i":71,"k":0.22,"a":0.07},{"i":71,"k":0.33,"a":0.11},{"i":71,"k":0.5,"a":0.18},{"i":71,"k":0.75,"a":0.3},{"i":71,"k":1.1,"a":0.45},{"i":71,"k":1.6,"a":0.55},{"i":71,"k":2.4,"a":0.45},{"i":71,"k":3.0,"a":0.3},
{"i":72,"k":0.1,"a":0.025},{"i":72,"k":0.15,"a":0.035},{"i":72,"k":0.22,"a":0.05},{"i":72,"k":0.33,"a":0.08},{"i":72,"k":0.5,"a":0.13},{"i":72,"k":0.75,"a":0.22},{"i":72,"k":1.1,"a":0.35},{"i":72,"k":1.6,"a":0.45},{"i":72,"k":2.4,"a":0.4}
],
"median": [
{"k":0.1,"a":0.214},{"k":0.15,"a":0.27},{"k":0.2,"a":0.318},{"k":0.3,"a":0.42},{"k":0.4,"a":0.5},{"k":0.5,"a":0.58},{"k":0.7,"a":0.76},{"k":1.0,"a":1.0},{"k":1.3,"a":1.17},{"k":1.6,"a":1.27},{"k":2.0,"a":1.3},{"k":2.5,"a":1.3},{"k":2.9,"a":1.33},{"k":3.05,"a":1.5},{"k":3.18,"a":1.84},{"k":3.35,"a":1.62},{"k":3.6,"a":1.53},{"k":3.87,"a":1.52},{"k":4.1,"a":1.6},{"k":4.36,"a":1.9},{"k":4.6,"a":3.0},{"k":4.75,"a":6},{"k":4.91,"a":19.2},{"k":5.2,"a":19.8},{"k":5.5,"a":19.3},{"k":5.98,"a":18.0}
],
"upper": [
{"k":0.1,"a":0.68},{"k":0.157,"a":0.75},{"k":0.257,"a":0.89},{"k":0.42,"a":1.2},{"k":0.69,"a":1.56},{"k":1.03,"a":1.9},{"k":1.37,"a":2.3},{"k":2.0,"a":2.7},{"k":2.61,"a":3.0},{"k":3.5,"a":3.56},{"k":3.97,"a":4.26},{"k":4.15,"a":3.44},{"k":4.35,"a":8},{"k":4.56,"a":19.2}
],
"lower": [
{"k":0.1,"a":0.077},{"k":0.157,"a":0.11},{"k":0.257,"a":0.175},{"k":0.42,"a":0.3},{"k":0.69,"a":0.47},{"k":1.03,"a":0.64},{"k":1.3,"a":0.75},{"k":1.76,"a":0.8},{"k":2.37,"a":0.66},{"k":2.86,"a":0.54},{"k":3.34,"a":0.51},{"k":3.8,"a":0.38},{"k":4.28,"a":0.26},{"k":4.56,"a":0.154}
],
"dotted": [{"k":4.56,"a":0.154},{"k":4.56,"a":19.2}]
},
"hconcat": [
{
"width": 312, "height": 312,
"view": {"stroke": "#222", "strokeWidth": 1.6},
"resolve": {"axis": {"x": "independent", "y": "independent"}},
"layer": [
{"data": {"values": [{"x":0.001,"y":0.001},{"x":100,"y":100}]},
 "mark": {"type": "line", "color": "#9c9c9c", "strokeWidth": 1.3},
 "encoding": {
  "x": {"field": "x", "type": "quantitative", "scale": {"type": "log", "domain": [0.001, 100], "nice": false}, "axis": {"orient": "bottom", "title": null, "values": [0.001,0.01,0.1,1,10,100], "labelExpr": "['10⁻³','10⁻²','10⁻¹','10⁰','10¹','10²'][round(log(datum.value)/LN10)+3]", "tickSize": 8, "offset": -8, "labelPadding": 10}},
  "y": {"field": "y", "type": "quantitative", "scale": {"type": "log", "domain": [0.001, 100], "nice": false}, "axis": {"orient": "left", "title": null, "values": [0.001,0.01,0.1,1,10,100], "labelExpr": "['10⁻³','10⁻²','10⁻¹','10⁰','10¹','10²'][round(log(datum.value)/LN10)+3]", "tickSize": 8, "offset": -8, "labelPadding": 6}}
 }},
{"data": {"name": "scatter"},
 "mark": {"type": "point", "shape": "square", "filled": true, "color": "#000", "size": 22, "opacity": 1},
 "encoding": {
  "x": {"field": "x", "type": "quantitative", "scale": {"type": "log", "domain": [0.001, 100], "nice": false}, "axis": {"orient": "bottom", "title": null, "labels": false, "tickSize": 4, "offset": -4, "values": [0.002,0.003,0.004,0.005,0.006,0.007,0.008,0.009,0.02,0.03,0.04,0.05,0.06,0.07,0.08,0.09,0.2,0.3,0.4,0.5,0.6,0.7,0.8,0.9,2,3,4,5,6,7,8,9,20,30,40,50,60,70,80,90]}},
  "y": {"field": "y", "type": "quantitative", "scale": {"type": "log", "domain": [0.001, 100], "nice": false}, "axis": {"orient": "left", "title": null, "labels": false, "tickSize": 4, "offset": -4, "values": [0.002,0.003,0.004,0.005,0.006,0.007,0.008,0.009,0.02,0.03,0.04,0.05,0.06,0.07,0.08,0.09,0.2,0.3,0.4,0.5,0.6,0.7,0.8,0.9,2,3,4,5,6,7,8,9,20,30,40,50,60,70,80,90]}}
 }},
{"data": {"values": [{}]},
 "mark": {"type": "text", "text": "PSDs at f", "align": "left", "baseline": "alphabetic", "font": "Liberation Sans", "fontSize": 23, "fontWeight": "bold", "color": "#111"},
 "encoding": {
  "x": {"datum": 0.032, "type": "quantitative", "scale": {"type": "log", "domain": [0.001, 100], "nice": false}, "axis": {"orient": "top", "title": null, "labels": false, "tickSize": 8, "offset": -8, "values": [0.001,0.01,0.1,1,10,100]}},
  "y": {"datum": 150, "type": "quantitative", "scale": {"type": "log", "domain": [0.001, 100], "nice": false}, "axis": {"orient": "right", "title": null, "labels": false, "tickSize": 8, "offset": -8, "values": [0.001,0.01,0.1,1,10,100]}}
 }},
{"data": {"values": [{}]},
 "mark": {"type": "text", "text": "gp", "align": "left", "baseline": "alphabetic", "font": "Liberation Sans", "fontSize": 14, "fontWeight": "bold", "color": "#111"},
 "encoding": {
  "x": {"datum": 1.6, "type": "quantitative", "scale": {"type": "log", "domain": [0.001, 100], "nice": false}, "axis": {"orient": "top", "title": null, "labels": false, "tickSize": 4, "offset": -4, "values": [0.002,0.003,0.004,0.005,0.006,0.007,0.008,0.009,0.02,0.03,0.04,0.05,0.06,0.07,0.08,0.09,0.2,0.3,0.4,0.5,0.6,0.7,0.8,0.9,2,3,4,5,6,7,8,9,20,30,40,50,60,70,80,90]}},
  "y": {"datum": 111.7, "type": "quantitative", "scale": {"type": "log", "domain": [0.001, 100], "nice": false}, "axis": {"orient": "right", "title": null, "labels": false, "tickSize": 4, "offset": -4, "values": [0.002,0.003,0.004,0.005,0.006,0.007,0.008,0.009,0.02,0.03,0.04,0.05,0.06,0.07,0.08,0.09,0.2,0.3,0.4,0.5,0.6,0.7,0.8,0.9,2,3,4,5,6,7,8,9,20,30,40,50,60,70,80,90]}}
 }},
{"data": {"values": [{}]},
 "mark": {"type": "text", "text": ".", "opacity": 0, "align": "left", "baseline": "top", "fontSize": 10},
 "encoding": {
  "x": {"datum": 1, "type": "quantitative", "axis": null},
  "y": {"datum": 421.7, "type": "quantitative", "axis": null}
 }},
{"data": {"values": [{}]},
 "mark": {"type": "text", "text": ".", "opacity": 0, "align": "left", "baseline": "top", "fontSize": 10},
 "encoding": {
  "x": {"datum": 1, "type": "quantitative", "axis": null},
  "y": {"datum": 0.0000676, "type": "quantitative", "axis": null}
 }},
{"data": {"values": [{}]},
 "mark": {"type": "text", "text": "(a)", "align": "left", "baseline": "middle", "font": "DejaVu Serif", "fontSize": 23, "color": "#555"},
 "encoding": {
  "x": {"datum": 0.000029, "type": "quantitative", "axis": null},
  "y": {"datum": 89.5, "type": "quantitative", "axis": null}
 }},
{"data": {"values": [{}]},
 "mark": {"type": "text", "text": "R", "align": "left", "baseline": "alphabetic", "font": "Liberation Sans", "fontSize": 21, "fontWeight": "bold", "color": "#111"},
 "encoding": {
  "x": {"datum": 0.151, "type": "quantitative", "axis": null},
  "y": {"datum": 0.000183, "type": "quantitative", "axis": null}
 }},
{"data": {"values": [{}]},
 "mark": {"type": "text", "text": "KAW", "align": "left", "baseline": "alphabetic", "font": "Liberation Sans", "fontSize": 11, "fontWeight": "bold", "color": "#111"},
 "encoding": {
  "x": {"datum": 0.273, "type": "quantitative", "axis": null},
  "y": {"datum": 0.000275, "type": "quantitative", "axis": null}
 }},
{"data": {"values": [{}]},
 "mark": {"type": "text", "text": "nV", "align": "left", "baseline": "alphabetic", "font": "Liberation Sans", "fontSize": 11, "fontWeight": "bold", "color": "#111"},
 "encoding": {
  "x": {"datum": 0.273, "type": "quantitative", "axis": null},
  "y": {"datum": 0.000147, "type": "quantitative", "axis": null}
 }},
{"data": {"values": [{}]},
 "mark": {"type": "text", "text": "R", "angle": 270, "align": "left", "baseline": "alphabetic", "font": "Liberation Sans", "fontSize": 21, "fontWeight": "bold", "color": "#111"},
 "encoding": {
  "x": {"datum": 0.000152, "type": "quantitative", "axis": null},
  "y": {"datum": 0.0723, "type": "quantitative", "axis": null}
 }},
{"data": {"values": [{}]},
 "mark": {"type": "text", "text": "nV", "angle": 270, "align": "left", "baseline": "alphabetic", "font": "Liberation Sans", "fontSize": 11, "fontWeight": "bold", "color": "#111"},
 "encoding": {
  "x": {"datum": 0.000177, "type": "quantitative", "axis": null},
  "y": {"datum": 0.1257, "type": "quantitative", "axis": null}
 }},
{"data": {"values": [{}]},
 "mark": {"type": "text", "text": "(obs)", "angle": 270, "align": "left", "baseline": "alphabetic", "font": "Liberation Sans", "fontSize": 21, "fontWeight": "bold", "color": "#111"},
 "encoding": {
  "x": {"datum": 0.000152, "type": "quantitative", "axis": null},
  "y": {"datum": 0.211, "type": "quantitative", "axis": null}
 }}
]
},
{
"width": 311, "height": 351,
"view": {"stroke": "#5a5a5a", "strokeWidth": 1.6},
"resolve": {"axis": {"x": "independent", "y": "independent"}},
"layer": [
{"data": {"name": "curves"},
 "mark": {"type": "line", "interpolate": "monotone", "clip": true, "color": "#6c6c6c", "strokeWidth": 1.4, "opacity": 0.85},
 "encoding": {
  "detail": {"field": "i", "type": "nominal"},
  "x": {"field": "k", "type": "quantitative", "scale": {"type": "log", "domain": [0.1, 10], "nice": false}, "axis": {"orient": "bottom", "title": null, "values": [0.1, 1, 10], "format": ".1f", "tickSize": 8, "offset": -8, "labelPadding": 12, "tickColor": "#555"}},
  "y": {"field": "a", "type": "quantitative", "scale": {"type": "log", "domain": [0.04, 42], "nice": false}, "axis": {"orient": "left", "title": null, "values": [0.1, 1, 10], "format": ".1f", "tickSize": 8, "offset": -8, "labelPadding": 7, "tickColor": "#555"}}
 }},
{"data": {"values": [{}]},
 "mark": {"type": "rule", "color": "#5c5c5c", "strokeWidth": 2, "strokeDash": [11, 7]},
 "encoding": {
  "x": {"datum": 1, "type": "quantitative", "scale": {"type": "log", "domain": [0.1, 10], "nice": false}, "axis": {"orient": "bottom", "title": null, "labels": false, "tickSize": 4, "offset": -4, "tickColor": "#555", "values": [0.2,0.3,0.4,0.5,0.6,0.7,0.8,0.9,2,3,4,5,6,7,8,9]}}
 }},
{"data": {"values": [{}]},
 "mark": {"type": "rule", "color": "#5c5c5c", "strokeWidth": 2, "strokeDash": [11, 7]},
 "encoding": {
  "y": {"datum": 1, "type": "quantitative", "scale": {"type": "log", "domain": [0.04, 42], "nice": false}, "axis": {"orient": "left", "title": null, "labels": false, "tickSize": 4, "offset": -4, "tickColor": "#555", "values": [0.05,0.06,0.07,0.08,0.09,0.2,0.3,0.4,0.5,0.6,0.7,0.8,0.9,2,3,4,5,6,7,8,9,20,30,40]}}
 }},
{"data": {"name": "median"},
 "mark": {"type": "line", "color": "#e2432b", "strokeWidth": 2.6},
 "encoding": {
  "x": {"field": "k", "type": "quantitative", "scale": {"type": "log", "domain": [0.1, 10], "nice": false}, "axis": {"orient": "top", "title": null, "labels": false, "tickSize": 8, "offset": -8, "tickColor": "#555", "values": [0.1, 1, 10]}},
  "y": {"field": "a", "type": "quantitative", "scale": {"type": "log", "domain": [0.04, 42], "nice": false}, "axis": {"orient": "right", "title": null, "labels": false, "tickSize": 8, "offset": -8, "tickColor": "#555", "values": [0.1, 1, 10]}}
 }},
{"data": {"name": "upper"},
 "mark": {"type": "line", "color": "#e2432b", "strokeWidth": 2.2, "strokeDash": [6, 4]},
 "encoding": {
  "x": {"field": "k", "type": "quantitative", "scale": {"type": "log", "domain": [0.1, 10], "nice": false}, "axis": {"orient": "top", "title": null, "labels": false, "tickSize": 4, "offset": -4, "tickColor": "#555", "values": [0.2,0.3,0.4,0.5,0.6,0.7,0.8,0.9,2,3,4,5,6,7,8,9]}},
  "y": {"field": "a", "type": "quantitative", "scale": {"type": "log", "domain": [0.04, 42], "nice": false}, "axis": {"orient": "right", "title": null, "labels": false, "tickSize": 4, "offset": -4, "tickColor": "#555", "values": [0.05,0.06,0.07,0.08,0.09,0.2,0.3,0.4,0.5,0.6,0.7,0.8,0.9,2,3,4,5,6,7,8,9,20,30,40]}}
 }},
{"data": {"name": "lower"},
 "mark": {"type": "line", "color": "#e2432b", "strokeWidth": 2.2, "strokeDash": [6, 4]},
 "encoding": {
  "x": {"field": "k", "type": "quantitative", "axis": null},
  "y": {"field": "a", "type": "quantitative", "axis": null}
 }},
{"data": {"name": "dotted"},
 "mark": {"type": "line", "color": "#e2432b", "strokeWidth": 2.2, "strokeDash": [2, 3]},
 "encoding": {
  "x": {"field": "k", "type": "quantitative", "axis": null},
  "y": {"field": "a", "type": "quantitative", "axis": null}
 }},
{"data": {"values": [{}]},
 "mark": {"type": "text", "text": ".", "opacity": 0, "align": "left", "baseline": "top", "fontSize": 10},
 "encoding": {
  "x": {"datum": 1, "type": "quantitative", "axis": null},
  "y": {"datum": 43.7, "type": "quantitative", "axis": null}
 }},
{"data": {"values": [{}]},
 "mark": {"type": "text", "text": ".", "opacity": 0, "align": "left", "baseline": "top", "fontSize": 10},
 "encoding": {
  "x": {"datum": 1, "type": "quantitative", "axis": null},
  "y": {"datum": 0.00471, "type": "quantitative", "axis": null}
 }},
{"data": {"values": [{}]},
 "mark": {"type": "text", "text": "(b)", "align": "left", "baseline": "middle", "font": "DejaVu Serif", "fontSize": 23, "color": "#555"},
 "encoding": {
  "x": {"datum": 0.02636, "type": "quantitative", "axis": null},
  "y": {"datum": 9.5, "type": "quantitative", "axis": null}
 }},
{"data": {"values": [{}]},
 "mark": {"type": "text", "text": "A", "angle": 270, "align": "left", "baseline": "alphabetic", "font": "Liberation Sans", "fontSize": 21, "fontWeight": "bold", "color": "#111"},
 "encoding": {
  "x": {"datum": 0.0376, "type": "quantitative", "axis": null},
  "y": {"datum": 0.655, "type": "quantitative", "axis": null}
 }},
{"data": {"values": [{}]},
 "mark": {"type": "text", "text": "KAW", "angle": 270, "align": "left", "baseline": "alphabetic", "font": "Liberation Sans", "fontSize": 11, "fontWeight": "bold", "color": "#111"},
 "encoding": {
  "x": {"datum": 0.0405, "type": "quantitative", "axis": null},
  "y": {"datum": 0.916, "type": "quantitative", "axis": null}
 }},
{"data": {"values": [{}]},
 "mark": {"type": "text", "text": "kρ", "align": "left", "baseline": "alphabetic", "font": "Liberation Sans", "fontSize": 20, "fontWeight": "bold", "color": "#111"},
 "encoding": {
  "x": {"datum": 0.738, "type": "quantitative", "axis": null},
  "y": {"datum": 0.0135, "type": "quantitative", "axis": null}
 }},
{"data": {"values": [{}]},
 "mark": {"type": "text", "text": "gp", "align": "left", "baseline": "alphabetic", "font": "Liberation Sans", "fontSize": 12, "fontWeight": "bold", "color": "#111"},
 "encoding": {
  "x": {"datum": 1.069, "type": "quantitative", "axis": null},
  "y": {"datum": 0.0124, "type": "quantitative", "axis": null}
 }}
]
}
]
}
